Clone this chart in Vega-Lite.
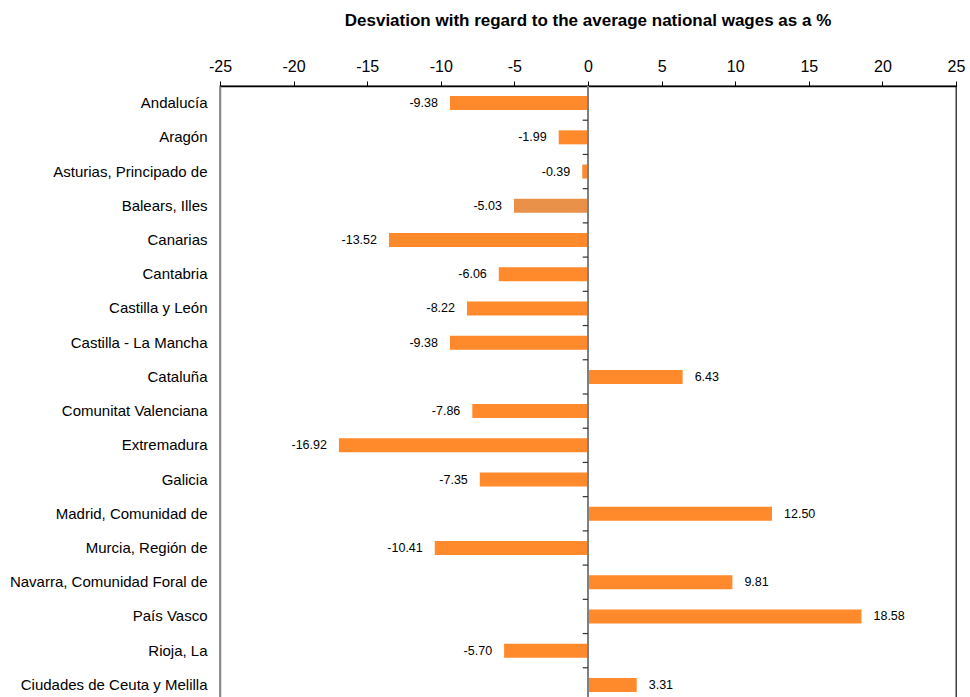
{
  "$schema": "https://vega.github.io/schema/vega-lite/v6.json",
  "autosize": "none",
  "width": 736,
  "height": 616,
  "padding": {"left": 220, "top": 86, "right": 14, "bottom": 0},
  "background": "white",
  "title": {"text": "Desviation with regard to the average national wages as a %", "font": "Liberation Sans", "fontSize": 17, "fontWeight": "bold", "color": "#000", "anchor": "middle", "offset": 28},
  "config": {
    "view": {"stroke": "#222", "strokeWidth": 1.3},
    "font": "Liberation Sans",
    "locale": {"number": {"decimal": ".", "thousands": ",", "grouping": [3], "currency": ["$", ""], "minus": "-"}}
  },
  "data": {"values": [
    {"region": "Andalucía", "value": -9.38},
    {"region": "Aragón", "value": -1.99},
    {"region": "Asturias, Principado de", "value": -0.39},
    {"region": "Balears, Illes", "value": -5.03},
    {"region": "Canarias", "value": -13.52},
    {"region": "Cantabria", "value": -6.06},
    {"region": "Castilla y León", "value": -8.22},
    {"region": "Castilla - La Mancha", "value": -9.38},
    {"region": "Cataluña", "value": 6.43},
    {"region": "Comunitat Valenciana", "value": -7.86},
    {"region": "Extremadura", "value": -16.92},
    {"region": "Galicia", "value": -7.35},
    {"region": "Madrid, Comunidad de", "value": 12.50},
    {"region": "Murcia, Región de", "value": -10.41},
    {"region": "Navarra, Comunidad Foral de", "value": 9.81},
    {"region": "País Vasco", "value": 18.58},
    {"region": "Rioja, La", "value": -5.70},
    {"region": "Ciudades de Ceuta y Melilla", "value": 3.31}
  ]},
  "layer": [
    {
      "mark": {"type": "bar", "size": 14},
      "encoding": {
        "x": {"field": "value", "type": "quantitative", "scale": {"domain": [-25, 25], "nice": false, "zero": false},
          "axis": {"orient": "top", "title": null, "values": [-25,-20,-15,-10,-5,0,5,10,15,20,25], "format": "d", "grid": false, "domainColor": "#000", "domainWidth": 1.3, "tickColor": "#000", "tickSize": 5, "labelFontSize": 16, "labelColor": "#000", "labelPadding": 7, "labelFont": "Liberation Sans", "labelFlush": false}},
        "y": {"field": "region", "type": "nominal", "sort": null, "scale": {"paddingInner": 0.59, "paddingOuter": 0.295},
          "axis": {"title": null, "orient": "left", "ticks": false, "domainColor": "#888", "domainWidth": 1.5, "labelFontSize": 15, "labelColor": "#000", "labelPadding": 13, "labelFont": "Liberation Sans", "labelLimit": 300}},
        "color": {"condition": {"test": "datum.region === 'Balears, Illes'", "value": "#EA9149"}, "value": "#FF8A2B"}
      }
    },
    {
      "mark": {"type": "rule", "color": "#808080", "strokeWidth": 2},
      "encoding": {"x": {"datum": 0, "type": "quantitative"}}
    },
    {
      "mark": {"type": "rule", "color": "#333", "strokeWidth": 1.2, "yOffset": 17.1},
      "encoding": {
        "x": {"datum": -0.36, "type": "quantitative"},
        "x2": {"datum": 0},
        "y": {"field": "region", "type": "nominal", "sort": null, "axis": null}
      }
    },
    {
      "transform": [{"filter": "datum.value < 0"}],
      "mark": {"type": "text", "align": "right", "dx": -12, "fontSize": 12.5, "color": "#000", "font": "Liberation Sans"},
      "encoding": {
        "x": {"field": "value", "type": "quantitative"},
        "y": {"field": "region", "type": "nominal", "sort": null, "axis": null},
        "text": {"field": "value", "type": "quantitative", "format": ".2f"}
      }
    },
    {
      "transform": [{"filter": "datum.value >= 0"}],
      "mark": {"type": "text", "align": "left", "dx": 12, "fontSize": 12.5, "color": "#000", "font": "Liberation Sans"},
      "encoding": {
        "x": {"field": "value", "type": "quantitative"},
        "y": {"field": "region", "type": "nominal", "sort": null, "axis": null},
        "text": {"field": "value", "type": "quantitative", "format": ".2f"}
      }
    }
  ],
  "resolve": {"axis": {"y": "independent"}}
}
